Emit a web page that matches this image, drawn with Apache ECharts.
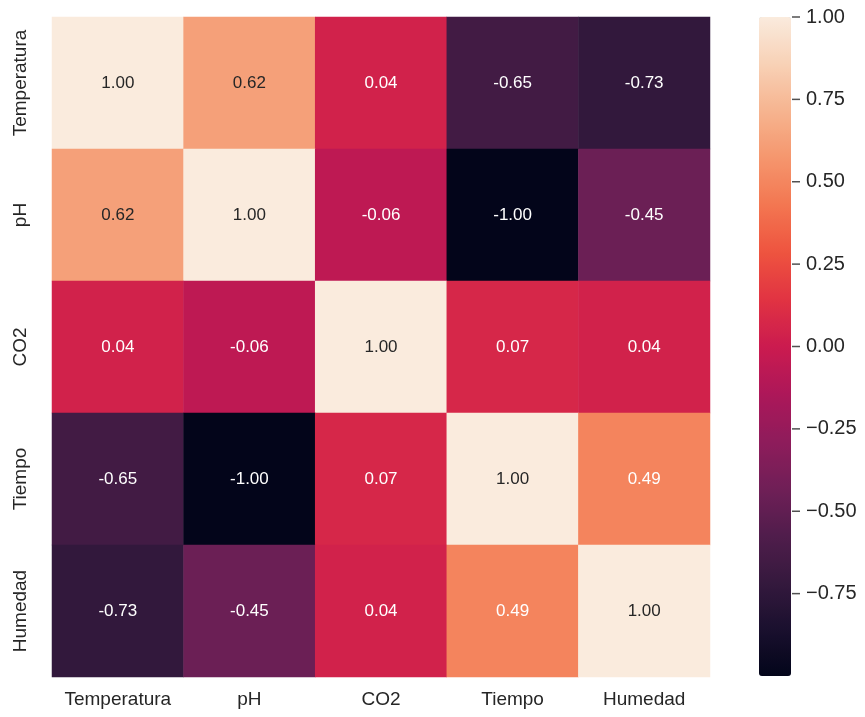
<!DOCTYPE html>
<html>
<head>
<meta charset="utf-8">
<script src="https://cdn.jsdelivr.net/npm/echarts@6/dist/echarts.min.js"></script>
<style>
  html, body { margin: 0; padding: 0; background: #ffffff; }
  #chart { width: 865px; height: 717px; }
</style>
</head>
<body>
<div id="chart"></div>
<script>
// Variables of the correlation matrix (rows top to bottom, columns left to right)
const variables = ['Temperatura', 'pH', 'CO2', 'Tiempo', 'Humedad'];

// Correlation coefficients, one array per row
const rowTemperatura = [1.00, 0.62, 0.04, -0.65, -0.73];
const rowPH          = [0.62, 1.00, -0.06, -1.00, -0.45];
const rowCO2         = [0.04, -0.06, 1.00, 0.07, 0.04];
const rowTiempo      = [-0.65, -1.00, 0.07, 1.00, 0.49];
const rowHumedad     = [-0.73, -0.45, 0.04, 0.49, 1.00];
const rows = [rowTemperatura, rowPH, rowCO2, rowTiempo, rowHumedad];

// Colour bar tick values
const colorbarTicks = [-0.75, -0.50, -0.25, 0.00, 0.25, 0.50, 0.75, 1.00];

// "rocket" palette stops, dark to light, evenly spaced
const rocket = [
  '#03051a', '#1a102e', '#35193e', '#511d4c', '#701f57', '#8f1c5b', '#ad1759',
  '#cb1b4f', '#e13342', '#ee543f', '#f37651', '#f5966d', '#f6b48f', '#f8d1b6', '#faebdd'
];

const textDark = '#262626';
const font = 'Liberation Sans, Arial, sans-serif';

const cells = [];
rows.forEach((row, r) => {
  row.forEach((v, c) => {
    cells.push({
      value: [c, r, v],
      label: { color: v > 0.55 ? textDark : '#ffffff' }
    });
  });
});

const chart = echarts.init(document.getElementById('chart'), null, { renderer: 'canvas' });

chart.setOption({
  backgroundColor: '#ffffff',
  animation: false,
  grid: [
    { left: 52, top: 17, width: 658, height: 660 },
    { left: 759, top: 17, width: 32, height: 659 }
  ],
  xAxis: [
    {
      type: 'category', gridIndex: 0, data: variables,
      axisLine: { show: false }, axisTick: { show: false }, splitLine: { show: false },
      axisLabel: { interval: 0, color: textDark, fontFamily: font, fontSize: 19, margin: 13 }
    },
    { type: 'value', gridIndex: 1, show: false, min: 0, max: 1 }
  ],
  yAxis: [
    {
      type: 'category', gridIndex: 0, data: variables, inverse: true,
      axisLine: { show: false }, axisTick: { show: false }, splitLine: { show: false },
      axisLabel: { interval: 0, color: textDark, fontFamily: font, fontSize: 19, rotate: 90, margin: 22 }
    },
    {
      type: 'value', gridIndex: 1, position: 'right', min: -1, max: 1,
      axisLine: { show: false },
      splitLine: { show: false },
      axisTick: { show: false },
      axisLabel: {
        show: true, customValues: colorbarTicks, margin: 15,
        color: textDark, fontFamily: font, fontSize: 20,
        formatter: v => (v < 0 ? '\u2212' : '') + Math.abs(v).toFixed(2)
      }
    }
  ],
  visualMap: {
    type: 'continuous',
    seriesIndex: 0,
    min: -1, max: 1,
    calculable: false,
    hoverLink: false,
    orient: 'vertical',
    left: 759, top: 17,
    padding: 0,
    itemWidth: 32, itemHeight: 659,
    text: null,
    showLabel: false,
    inRange: { color: rocket }
  },
  series: [
    {
      type: 'heatmap',
      xAxisIndex: 0, yAxisIndex: 0,
      data: cells,
      label: {
        show: true, fontFamily: font, fontSize: 17,
        formatter: p => p.value[2].toFixed(2)
      },
      itemStyle: { borderWidth: 0 },
      emphasis: { disabled: true }
    },
    {
      // tick marks on the right edge of the colour bar
      type: 'scatter',
      xAxisIndex: 1, yAxisIndex: 1,
      data: colorbarTicks.map(v => [1, v]),
      symbol: 'rect',
      symbolSize: [8, 1.5],
      symbolOffset: [5, 0],
      itemStyle: { color: textDark },
      silent: true,
      z: 5
    }
  ]
});
</script>
</body>
</html>
